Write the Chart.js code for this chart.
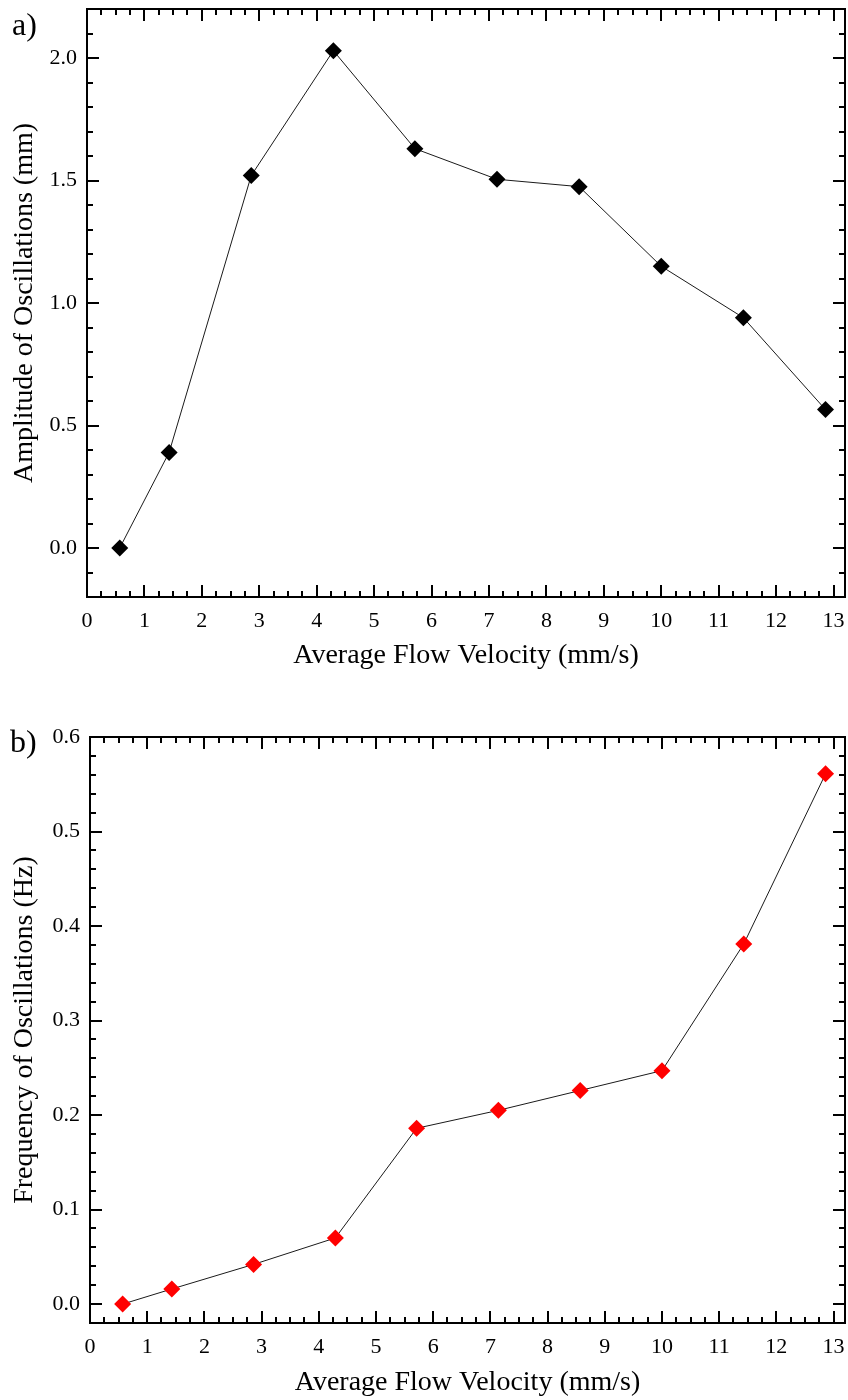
<!DOCTYPE html>
<html>
<head>
<meta charset="utf-8">
<script src="https://cdn.jsdelivr.net/npm/chart.js@4.4.1/dist/chart.umd.min.js"></script>
<style>
  html, body { margin: 0; padding: 0; background: #fff; overflow: hidden; }
  #wrap { width: 848px; height: 1400px; position: relative; }
  .box { position: absolute; left: 0; width: 848px; }
  .box canvas { display: block; }
  #boxA { top: 0; height: 680px; }
  #boxB { top: 680px; height: 720px; }
</style>
</head>
<body>
<div id="wrap">
  <div class="box" id="boxA"><canvas id="CHART_A"></canvas></div>
  <div class="box" id="boxB"><canvas id="CHART_B"></canvas></div>
</div>
<script>
// DATA

const velocity = [0.57, 1.43, 2.86, 4.29, 5.71, 7.14, 8.57, 10.0, 11.43, 12.86];
const amplitude = [0.0, 0.39, 1.52, 2.03, 1.63, 1.505, 1.475, 1.15, 0.94, 0.565];
const frequency = [0.0, 0.016, 0.042, 0.070, 0.186, 0.205, 0.226, 0.247, 0.381, 0.561];

const velocityTicks = [0, 1, 2, 3, 4, 5, 6, 7, 8, 9, 10, 11, 12, 13];
const amplitudeTicks = [0.0, 0.5, 1.0, 1.5, 2.0];
const frequencyTicks = [0.0, 0.1, 0.2, 0.3, 0.4, 0.5, 0.6];

const SERIF = "'Liberation Serif', 'Times New Roman', serif";

// frame + inward ticks on all four sides, plus the panel letter
const frameTicks = {
    id: 'frameTicks',
    afterDraw(chart, args, opts) {
        const ctx = chart.ctx;
        const a = chart.chartArea;
        const xs = chart.scales.x;
        const ys = chart.scales.y;
        ctx.save();
        ctx.strokeStyle = '#000';
        ctx.lineWidth = 2;
        ctx.beginPath();
        // x ticks, minor every 0.25
        for (let i = 0; i * 0.25 <= xs.max + 1e-9; i++) {
            const px = Math.round(xs.getPixelForValue(i * 0.25));
            const len = i % 4 === 0 ? 12 : 6;
            ctx.moveTo(px, a.bottom);
            ctx.lineTo(px, a.bottom - len);
            ctx.moveTo(px, a.top);
            ctx.lineTo(px, a.top + len);
        }
        // y ticks
        const step = opts.minor;
        const start = Math.ceil(ys.min / step - 1e-9);
        for (let i = start; i * step <= ys.max + 1e-9; i++) {
            const py = Math.round(ys.getPixelForValue(i * step));
            const len = i % opts.every === 0 ? 12 : 6;
            ctx.moveTo(a.left, py);
            ctx.lineTo(a.left + len, py);
            ctx.moveTo(a.right, py);
            ctx.lineTo(a.right - len, py);
        }
        ctx.stroke();
        ctx.strokeRect(a.left, a.top, a.right - a.left, a.bottom - a.top);
        ctx.fillStyle = '#000';
        ctx.font = '32px ' + SERIF;
        ctx.textBaseline = 'middle';
        ctx.fillText(opts.letter, opts.lx, opts.ly);
        ctx.restore();
    }
};

function makeChart(canvas, values, color, yMin, yMax, yTicks, yTitle, cfg) {
    return new Chart(canvas, {
        type: 'line',
        data: {
            datasets: [{
                data: velocity.map((v, i) => ({ x: v, y: values[i] })),
                borderColor: '#1a1a1a',
                borderWidth: 1,
                pointStyle: 'rectRot',
                pointRadius: 8.5,
                pointHoverRadius: 8.5,
                pointBackgroundColor: color,
                pointBorderColor: color,
                pointBorderWidth: 0,
                tension: 0,
            }],
        },
        options: {
            responsive: true,
            maintainAspectRatio: false,
            animation: false,
            layout: {
                autoPadding: false,
                padding: { top: cfg.top, right: 3, left: 0, bottom: 0 },
            },
            plugins: {
                legend: { display: false },
                tooltip: { enabled: false },
                frameTicks: { letter: cfg.letter, lx: cfg.lx, ly: cfg.ly, minor: cfg.minor, every: cfg.every },
            },
            scales: {
                x: {
                    type: 'linear',
                    min: 0,
                    max: 13.2,
                    afterBuildTicks: s => { s.ticks = velocityTicks.map(v => ({ value: v })); },
                    afterFit: s => {
                        s.height = cfg.xh;
                        s.paddingLeft = 0;
                        s.paddingRight = 0;
                    },
                    grid: { display: false, drawTicks: false },
                    border: { display: false },
                    ticks: {
                        padding: 11,
                        color: '#000',
                        maxRotation: 0,
                        autoSkip: false,
                        font: { family: SERIF, size: 22 },
                        callback: v => String(v),
                    },
                    title: {
                        display: true,
                        text: 'Average Flow Velocity (mm/s)',
                        color: '#000',
                        padding: { top: 2, bottom: cfg.xtb },
                        font: { family: SERIF, size: 28 },
                    },
                },
                y: {
                    type: 'linear',
                    min: yMin,
                    max: yMax,
                    afterBuildTicks: s => { s.ticks = yTicks.map(v => ({ value: v })); },
                    afterFit: s => {
                        s.width = cfg.yw;
                        s.paddingTop = 0;
                        s.paddingBottom = 0;
                    },
                    grid: { display: false, drawTicks: false },
                    border: { display: false },
                    ticks: {
                        padding: 10,
                        color: '#000',
                        font: { family: SERIF, size: 22 },
                        callback: v => v.toFixed(1),
                    },
                    title: {
                        display: true,
                        text: yTitle,
                        color: '#000',
                        padding: { top: 8, bottom: 0 },
                        font: { family: SERIF, size: 28 },
                    },
                },
            },
        },
        plugins: [frameTicks],
    });
}

const chartA = makeChart(document.getElementById('CHART_A'), amplitude, '#000000',
    -0.2, 2.2, amplitudeTicks, 'Amplitude of Oscillations (mm)',
    { top: 9, xh: 83, xtb: 8, yw: 87, letter: 'a)', lx: 12, ly: 27, minor: 0.1, every: 5 });

const chartB = makeChart(document.getElementById('CHART_B'), frequency, '#ff0000',
    -0.02, 0.6, frequencyTicks, 'Frequency of Oscillations (Hz)',
    { top: 57, xh: 77, xtb: 1, yw: 90, letter: 'b)', lx: 10, ly: 64, minor: 0.02, every: 5 });
</script>
</body>
</html>
